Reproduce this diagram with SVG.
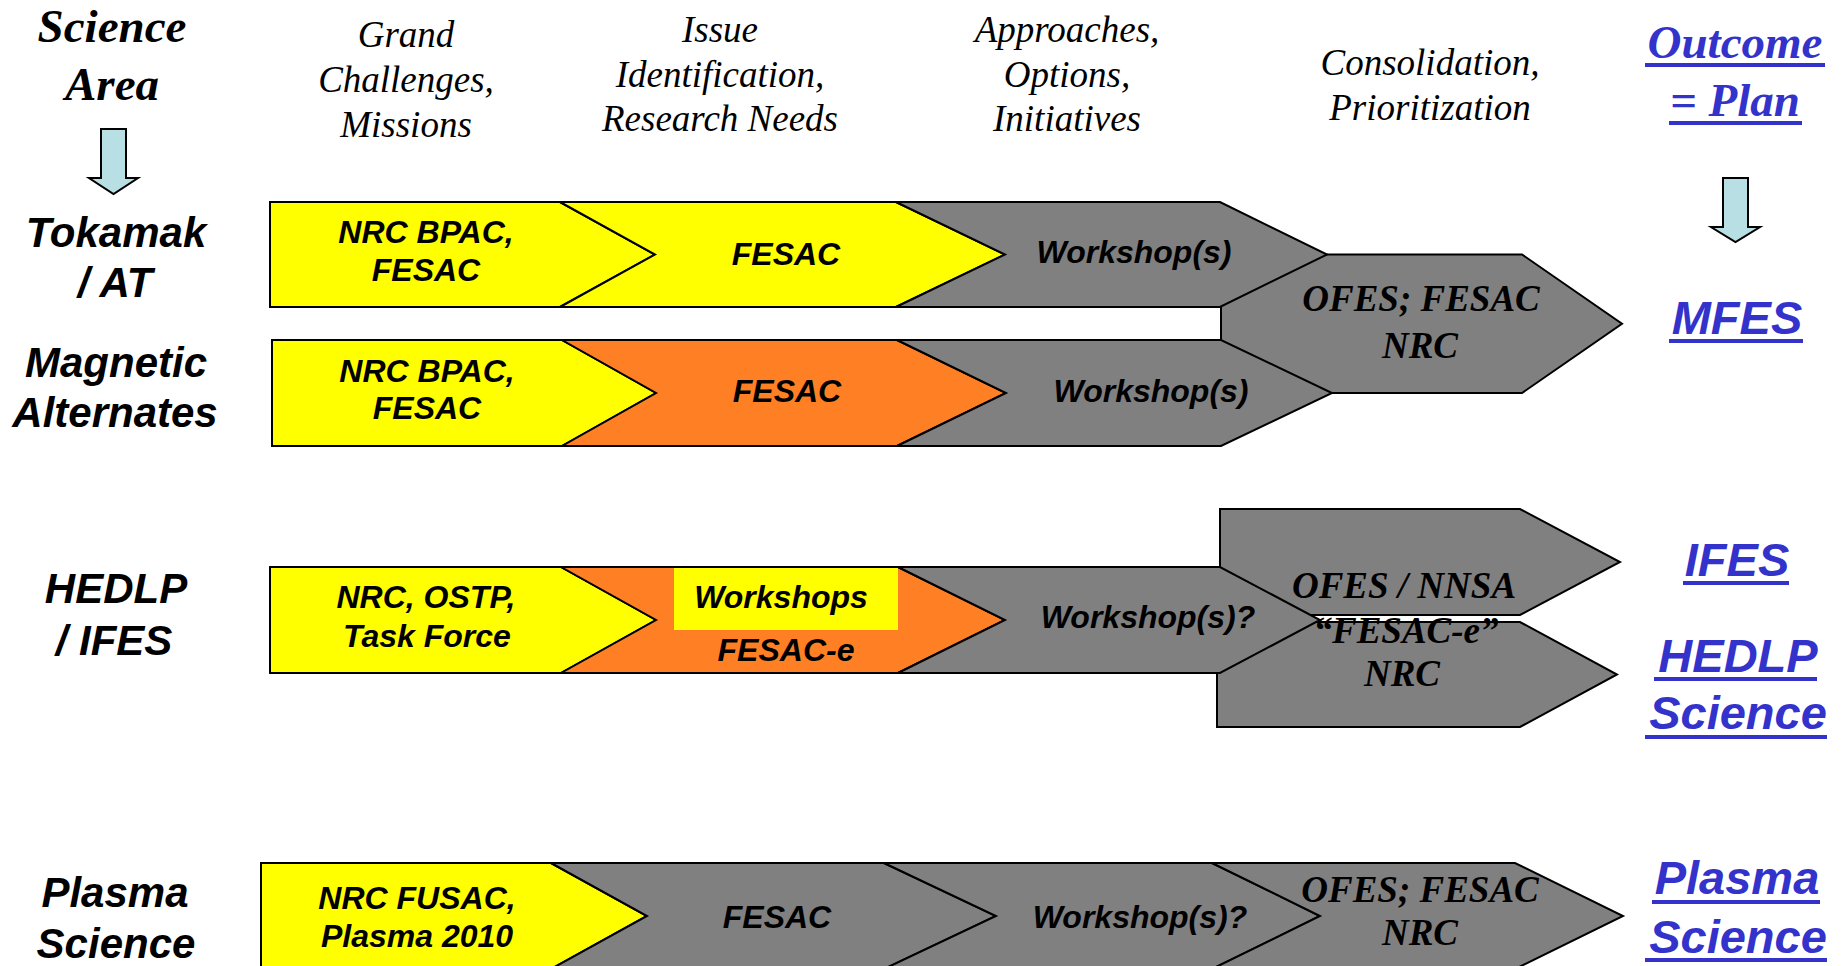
<svg xmlns="http://www.w3.org/2000/svg" width="1847" height="966" viewBox="0 0 1847 966">
  <style>
    .seg { stroke: #000; stroke-width: 2; stroke-linejoin: miter; }
    .yel { fill: #FFFF00; }
    .org { fill: #FF8024; }
    .gry { fill: #808080; }
    .lab { font-family: "Liberation Sans", Arial, sans-serif; font-weight: bold; font-style: italic; font-size: 32px; fill: #000; text-anchor: middle; }
    .hdr { font-family: "Liberation Serif", "Times New Roman", serif; font-style: italic; font-size: 37px; fill: #000; text-anchor: middle; }
    .area { font-family: "Liberation Sans", Arial, sans-serif; font-weight: bold; font-style: italic; font-size: 42px; fill: #000; text-anchor: middle; }
    .ttl { font-family: "Liberation Serif", "Times New Roman", serif; font-weight: bold; font-style: italic; font-size: 47px; text-anchor: middle; }
    .cons { font-family: "Liberation Serif", "Times New Roman", serif; font-weight: bold; font-style: italic; font-size: 37px; fill: #000; text-anchor: middle; }
    .out { font-family: "Liberation Sans", Arial, sans-serif; font-weight: bold; font-style: italic; font-size: 47px; fill: #3333CC; text-anchor: middle; }
    .link { fill: #3333CC; }
    .uline { fill: #3333CC; }
    .arrow { fill: #B8DFE3; stroke: #000; stroke-width: 2; }
  </style>

  <rect width="1847" height="966" fill="#FFFFFF"/>

  <!-- column headings -->
  <g id="heading-science-area">
    <text class="ttl" x="112" y="42" fill="#000">Science</text>
    <text class="ttl" x="112" y="100" fill="#000">Area</text>
  </g>
  <g id="heading-grand-challenges">
    <text class="hdr" x="406" y="47">Grand</text>
    <text class="hdr" x="406" y="92">Challenges,</text>
    <text class="hdr" x="406" y="137">Missions</text>
  </g>
  <g id="heading-issue-identification">
    <text class="hdr" x="720" y="42">Issue</text>
    <text class="hdr" x="720" y="87">Identification,</text>
    <text class="hdr" x="720" y="131">Research Needs</text>
  </g>
  <g id="heading-approaches">
    <text class="hdr" x="1067" y="42">Approaches,</text>
    <text class="hdr" x="1067" y="87">Options,</text>
    <text class="hdr" x="1067" y="131">Initiatives</text>
  </g>
  <g id="heading-consolidation">
    <text class="hdr" x="1430" y="75">Consolidation,</text>
    <text class="hdr" x="1430" y="120">Prioritization</text>
  </g>
  <g id="heading-outcome">
    <text class="ttl link" x="1735" y="58">Outcome</text>
    <rect class="uline" x="1645" y="63" width="180" height="4"/>
    <text class="ttl link" x="1735" y="116">= Plan</text>
    <rect class="uline" x="1669" y="121" width="133" height="4"/>
  </g>

  <!-- science area row labels -->
  <g id="area-tokamak">
    <text class="area" x="116" y="247">Tokamak</text>
    <text class="area" x="115" y="297">/ AT</text>
  </g>
  <g id="area-magnetic-alternates">
    <text class="area" x="116" y="377">Magnetic</text>
    <text class="area" x="115" y="427">Alternates</text>
  </g>
  <g id="area-hedlp">
    <text class="area" x="116" y="603">HEDLP</text>
    <text class="area" x="114" y="655">/ IFES</text>
  </g>
  <g id="area-plasma">
    <text class="area" x="115" y="907">Plasma</text>
    <text class="area" x="116" y="958">Science</text>
  </g>

  <!-- shared consolidation stage for the two magnetic rows (sits behind them) -->
  <g id="mfes-consolidation">
    <polygon class="seg gry" points="1221,254.5 1522,254.5 1622,323.75 1522,393 1221,393"/>
    <text class="cons" x="1421" y="311">OFES; FESAC</text>
    <text class="cons" x="1420" y="358">NRC</text>
  </g>

  <!-- row 1: Tokamak / AT -->
  <g id="tok-grand">
    <polygon class="seg yel" points="270,202 560,202 655,254.5 560,307 270,307"/>
    <text class="lab" x="426" y="243">NRC BPAC,</text>
    <text class="lab" x="426" y="281">FESAC</text>
  </g>
  <g id="tok-issue">
    <polygon class="seg yel" points="560,202 896,202 1005,254.5 896,307 560,307 655,254.5"/>
    <text class="lab" x="786" y="265">FESAC</text>
  </g>
  <g id="tok-approach">
    <polygon class="seg gry" points="896,202 1220,202 1327,254.5 1220,307 896,307 1005,254.5"/>
    <text class="lab" x="1134" y="263">Workshop(s)</text>
  </g>

  <!-- row 2: Magnetic Alternates -->
  <g id="alt-grand">
    <polygon class="seg yel" points="272,340 562,340 656,393 562,446 272,446"/>
    <text class="lab" x="427" y="382">NRC BPAC,</text>
    <text class="lab" x="427" y="419">FESAC</text>
  </g>
  <g id="alt-issue">
    <polygon class="seg org" points="562,340 897,340 1006,393 897,446 562,446 656,393"/>
    <text class="lab" x="787" y="402">FESAC</text>
  </g>
  <g id="alt-approach">
    <polygon class="seg gry" points="897,340 1221,340 1332,393 1221,446 897,446 1006,393"/>
    <text class="lab" x="1151" y="402">Workshop(s)</text>
  </g>

  <!-- split consolidation stage for HEDLP / IFES (behind row 3) -->
  <g id="ifes-consolidation-shapes">
    <polygon class="seg gry" points="1217,622 1520,622 1617,674.5 1520,727 1217,727"/>
    <polygon class="seg gry" points="1220,509 1520,509 1620,562 1520,615 1220,615"/>
  </g>

  <!-- row 3: HEDLP / IFES -->
  <g id="hed-grand">
    <polygon class="seg yel" points="270,567 561,567 656,620 561,673 270,673"/>
    <text class="lab" x="426" y="608">NRC, OSTP,</text>
    <text class="lab" x="427" y="647">Task Force</text>
  </g>
  <g id="hed-issue">
    <polygon class="seg org" points="561,567 898,567 1005,620 898,673 561,673 656,620"/>
    <rect class="yel" x="674" y="568" width="224" height="62"/>
    <text class="lab" x="781" y="608">Workshops</text>
    <text class="lab" x="786" y="661">FESAC-e</text>
  </g>
  <g id="hed-approach">
    <polygon class="seg gry" points="898,567 1220,567 1320,620 1220,673 898,673 1005,620"/>
    <text class="lab" x="1148" y="628">Workshop(s)?</text>
  </g>

  <g id="ifes-consolidation-label">
    <text class="cons" x="1404" y="598">OFES / NNSA</text>
    <text class="cons" x="1406" y="643">“FESAC-e”</text>
    <text class="cons" x="1402" y="686">NRC</text>
  </g>

  <!-- row 4: Plasma Science -->
  <g id="pla-grand">
    <polygon class="seg yel" points="261,863 551,863 647,916 551,969 261,969"/>
    <text class="lab" x="417" y="909">NRC FUSAC,</text>
    <text class="lab" x="417" y="947">Plasma 2010</text>
  </g>
  <g id="pla-issue">
    <polygon class="seg gry" points="551,863 884,863 996,916 884,969 551,969 647,916"/>
    <text class="lab" x="777" y="928">FESAC</text>
  </g>
  <g id="pla-approach">
    <polygon class="seg gry" points="884,863 1212,863 1320,916 1212,969 884,969 996,916"/>
    <text class="lab" x="1140" y="928">Workshop(s)?</text>
  </g>
  <g id="pla-consolidation">
    <polygon class="seg gry" points="1212,863 1515,863 1623,916 1515,969 1212,969 1320,916"/>
    <text class="cons" x="1420" y="902">OFES; FESAC</text>
    <text class="cons" x="1420" y="945">NRC</text>
  </g>

  <!-- outcomes (underlined) -->
  <g id="outcome-mfes">
    <text class="out" x="1737" y="334">MFES</text>
    <rect class="uline" x="1669" y="339" width="134" height="4"/>
  </g>
  <g id="outcome-ifes">
    <text class="out" x="1737" y="576">IFES</text>
    <rect class="uline" x="1683" y="581" width="106" height="4"/>
  </g>
  <g id="outcome-hedlp">
    <text class="out" x="1738" y="672">HEDLP</text>
    <rect class="uline" x="1654" y="677" width="163" height="4"/>
    <text class="out" x="1738" y="729">Science</text>
    <rect class="uline" x="1645" y="735" width="182" height="4"/>
  </g>
  <g id="outcome-plasma">
    <text class="out" x="1737" y="894">Plasma</text>
    <rect class="uline" x="1652" y="900" width="168" height="4"/>
    <text class="out" x="1738" y="953">Science</text>
    <rect class="uline" x="1645" y="958" width="182" height="4"/>
  </g>

  <!-- down arrows -->
  <g id="connectors">
    <path class="arrow" d="M101,129 H126 V178 H138 L113.5,194 L89,178 H101 Z"/>
    <path class="arrow" d="M1723,178 H1748 V227 H1760 L1735.5,242 L1711,227 H1723 Z"/>
  </g>
</svg>
